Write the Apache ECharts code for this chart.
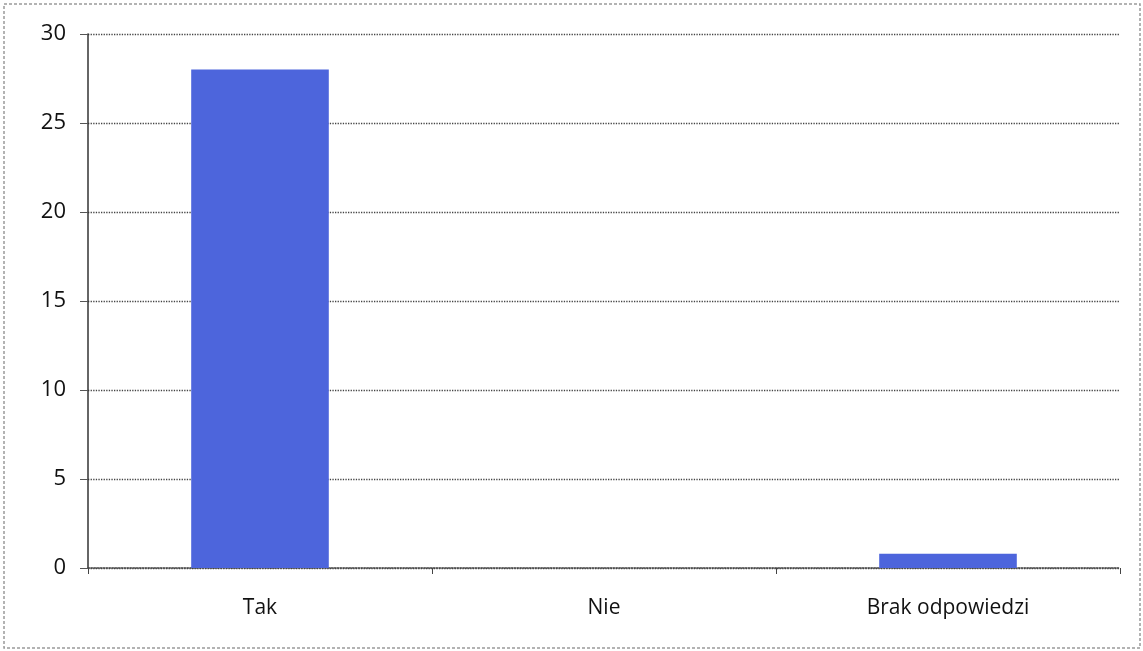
<!DOCTYPE html>
<html>
<head>
<meta charset="utf-8">
<script src="https://cdn.jsdelivr.net/npm/echarts@6/dist/echarts.min.js"></script>
<style>
html,body{margin:0;padding:0;background:#fff;}
#chart{width:1143px;height:651px;}
</style>
</head>
<body>
<div id="chart"></div>
<script>
const categories = ['Tak', 'Nie', 'Brak odpowiedzi'];
const values = [28, 0, 0.8];
const yTicks = [0, 5, 10, 15, 20, 25, 30];

const chart = echarts.init(document.getElementById('chart'));
chart.setOption({
  animation: false,
  backgroundColor: '#ffffff',
  graphic: [{
    type: 'rect',
    shape: {x: 4, y: 4, width: 1136, height: 644},
    style: {fill: 'none', stroke: '#9a9a9a', lineWidth: 1.5, lineDash: [3, 2]},
    silent: true
  }],
  grid: {left: 88, right: 23, top: 34, bottom: 83, containLabel: false},
  xAxis: {
    type: 'category',
    data: categories,
    axisLine: {show: true, lineStyle: {color: '#444', width: 1.5, type: 'dotted'}},
    axisTick: {show: true, alignWithLabel: false, length: 6, lineStyle: {color: '#444'}},
    axisLabel: {color: '#111', fontSize: 21, fontFamily: 'Open Sans, Liberation Sans, sans-serif', margin: 30}
  },
  yAxis: {
    type: 'value',
    min: yTicks[0],
    max: yTicks[yTicks.length - 1],
    interval: 5,
    axisLine: {show: true, lineStyle: {color: '#333', width: 1.5}},
    axisTick: {show: true, inside: false, length: 8, lineStyle: {color: '#555'}},
    splitLine: {show: true, lineStyle: {color: '#444', width: 1.3, type: 'dotted'}},
    axisLabel: {color: '#111', fontSize: 22, fontFamily: 'Open Sans, Liberation Sans, sans-serif', margin: 22}
  },
  series: [{
    type: 'bar',
    data: values,
    barWidth: '40%',
    itemStyle: {color: '#4d65dc'}
  }]
});
</script>
</body>
</html>
